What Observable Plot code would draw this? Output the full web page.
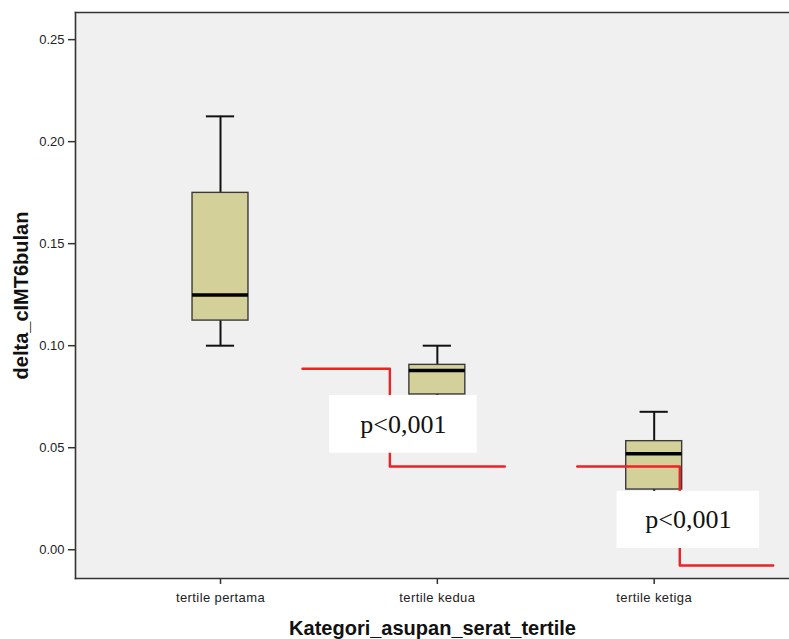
<!DOCTYPE html>
<html>
<head>
<meta charset="utf-8">
<script src="https://cdn.jsdelivr.net/npm/d3@7"></script>
<script src="https://cdn.jsdelivr.net/npm/@observablehq/plot@0.6"></script>
<style>
  html, body { margin: 0; padding: 0; background: #ffffff; }
  #chart svg { display: block; }
  #chart g[aria-label="x-axis tick label"] text { letter-spacing: 0.4px; }
</style>
</head>
<body>
<div id="chart"></div>
<script>
// ---- data ----
const categories = ["tertile pertama", "tertile kedua", "tertile ketiga"];
const whiskerLow  = [0.1000, 0.0720, 0.0200];
const q1          = [0.1123, 0.0761, 0.0295];
const median      = [0.1249, 0.0878, 0.0470];
const q3          = [0.1749, 0.0906, 0.0532];
const whiskerHigh = [0.2124, 0.1000, 0.0676];
const yTicks = [0, 0.05, 0.10, 0.15, 0.20, 0.25];
const yLabel = "delta_cIMT6bulan";
const xLabel = "Kategori_asupan_serat_tertile";

// annotation brackets (in category-index / value units)
const bracket1X = [0.378, 0.781, 0.781, 1.311];
const bracket1Y = [0.0887, 0.0887, 0.0408, 0.0408];
const bracket2X = [1.645, 2.118, 2.118, 2.549];
const bracket2Y = [0.0408, 0.0408, -0.0077, -0.0077];
const pLabels = ["p<0,001", "p<0,001"];
const pBoxX1 = [0.503, 1.829];
const pBoxX2 = [1.184, 2.486];
const pBoxY1 = [0.0473, 0.0006];
const pBoxY2 = [0.0756, 0.0286];

// ---- build ----
const boxes = categories.map((c, i) => ({
  i, c, lo: whiskerLow[i], q1: q1[i], med: median[i], q3: q3[i], hi: whiskerHigh[i]
}));
const br1 = bracket1X.map((x, k) => ({x, y: bracket1Y[k]}));
const br2 = bracket2X.map((x, k) => ({x, y: bracket2Y[k]}));
const pl = pLabels.map((t, k) => ({t, x1: pBoxX1[k], x2: pBoxX2[k], y1: pBoxY1[k], y2: pBoxY2[k]}));

const halfBox = 0.129;
const halfCap = 0.065;

const chart = Plot.plot({
  width: 789,
  height: 639,
  marginLeft: 75,
  marginRight: 0,
  marginTop: 12,
  marginBottom: 61,
  style: {fontFamily: "'Liberation Sans', Arial, sans-serif", color: "#222", background: "#ffffff"},
  x: {type: "linear", domain: [-0.6687, 2.624], axis: null},
  y: {domain: [-0.0141, 0.2633], axis: null},
  marks: [
    Plot.frame({fill: "#f0f0f0", stroke: "none"}),
    Plot.frame({anchor: "top", stroke: "#333", strokeWidth: 1.6}),
    Plot.frame({anchor: "left", stroke: "#333", strokeWidth: 1.6}),
    Plot.frame({anchor: "bottom", stroke: "#333", strokeWidth: 1.6}),
    Plot.axisY({ticks: yTicks, tickFormat: d3.format(".2f"), tickSize: 7, tickPadding: 4, fontSize: 13, label: null, stroke: "#333", strokeWidth: 1.5}),
    Plot.axisX({ticks: [0, 1, 2], tickFormat: i => categories[i], tickSize: 6, tickPadding: 8, fontSize: 13, label: null, stroke: "#333", strokeWidth: 1.5}),
    // whiskers
    Plot.ruleX(boxes, {x: "i", y1: "lo", y2: "hi", stroke: "#111", strokeWidth: 2}),
    // caps
    Plot.ruleY(boxes, {y: "hi", x1: d => d.i - halfCap, x2: d => d.i + halfCap, stroke: "#111", strokeWidth: 2}),
    Plot.ruleY(boxes, {y: "lo", x1: d => d.i - halfCap, x2: d => d.i + halfCap, stroke: "#111", strokeWidth: 2}),
    // boxes
    Plot.rect(boxes, {x1: d => d.i - halfBox, x2: d => d.i + halfBox, y1: "q1", y2: "q3", fill: "#d4d09a", stroke: "#3a3a3a", strokeWidth: 1.4}),
    // medians
    Plot.ruleY(boxes, {y: "med", x1: d => d.i - halfBox, x2: d => d.i + halfBox, stroke: "#000", strokeWidth: 3.5}),
    // red brackets
    Plot.line(br1, {x: "x", y: "y", stroke: "#ee2224", strokeWidth: 2.4, curve: "linear"}),
    Plot.line(br2, {x: "x", y: "y", stroke: "#ee2224", strokeWidth: 2.4, curve: "linear"}),
    // white label boxes
    Plot.rect(pl, {x1: "x1", x2: "x2", y1: "y1", y2: "y2", fill: "#ffffff"}),
    Plot.text(pl, {x: d => (d.x1 + d.x2) / 2, y: d => (d.y1 + d.y2) / 2, text: "t", fontFamily: "'Liberation Serif', 'Times New Roman', serif", fontSize: 26, fill: "#111", lineAnchor: "middle"}),
    // axis titles
    Plot.text([yLabel], {frameAnchor: "left", dx: -54, rotate: -90, textAnchor: "middle", lineAnchor: "middle", text: d => d, fontSize: 20, fontWeight: "bold", fill: "#111"}),
    Plot.text([xLabel], {frameAnchor: "bottom", dy: 50, textAnchor: "middle", lineAnchor: "middle", text: d => d, fontSize: 20, fontWeight: "bold", fill: "#111"})
  ]
});
document.getElementById("chart").appendChild(chart);
</script>
</body>
</html>
